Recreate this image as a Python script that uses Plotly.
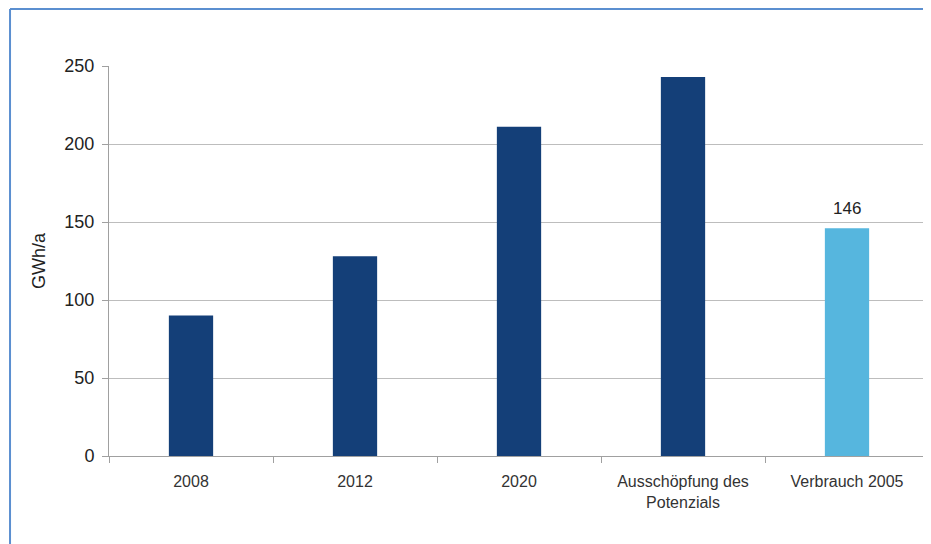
import plotly.graph_objects as go

categories = ["2008", "2012", "2020", "Ausschöpfung des<br>Potenzials", "Verbrauch 2005"]
values = [90, 128, 211, 243, 146]
bar_colors = ["#143f78", "#143f78", "#143f78", "#143f78", "#56b6de"]
label_index = 4
y_ticks = [0, 50, 100, 150, 200, 250]

fig = go.Figure()
fig.add_trace(go.Bar(
    x=categories, y=values,
    marker=dict(color=bar_colors, line=dict(width=0)),
    hoverinfo="x+y",
))

fig.add_annotation(
    x=categories[label_index], y=values[label_index],
    text=str(values[label_index]), showarrow=False,
    yanchor="bottom", yshift=8,
    font=dict(size=17, color="#222222"),
)

fig.update_layout(
    width=923, height=536,
    margin=dict(l=101, r=2, t=58, b=88),
    paper_bgcolor="white", plot_bgcolor="white",
    font=dict(family="Liberation Sans, Arial, sans-serif", color="#222222"),
    bargap=0.73,
    showlegend=False,
    xaxis=dict(
        type="category",
        showline=True, linecolor="#a0a0a0", linewidth=1,
        ticks="outside", tickson="boundaries", ticklen=6, tickcolor="#a0a0a0",
        showgrid=False,
        ticklabelstandoff=11,
        tickfont=dict(size=16, color="#333333"),
    ),
    yaxis=dict(
        range=[0, 250], tickvals=y_ticks,
        showline=True, linecolor="#a0a0a0", linewidth=1,
        ticks="outside", ticklen=6, tickcolor="#a0a0a0",
        showgrid=True, gridcolor="#bdbdbd", gridwidth=1,
        zeroline=False,
        ticklabelstandoff=4,
        tickfont=dict(size=18, color="#222222"),
        title=dict(text="GWh/a", font=dict(size=18, color="#222222"), standoff=14),
    ),
    shapes=[
        dict(type="line", xref="paper", yref="paper",
             x0=-0.1207, x1=1.01, y0=1.146, y1=1.146,
             line=dict(color="#5b8fd0", width=2)),
        dict(type="line", xref="paper", yref="paper",
             x0=-0.1207, x1=-0.1207, y0=1.146, y1=-0.3,
             line=dict(color="#5b8fd0", width=2)),
    ],
)

fig.write_html("out.html")
